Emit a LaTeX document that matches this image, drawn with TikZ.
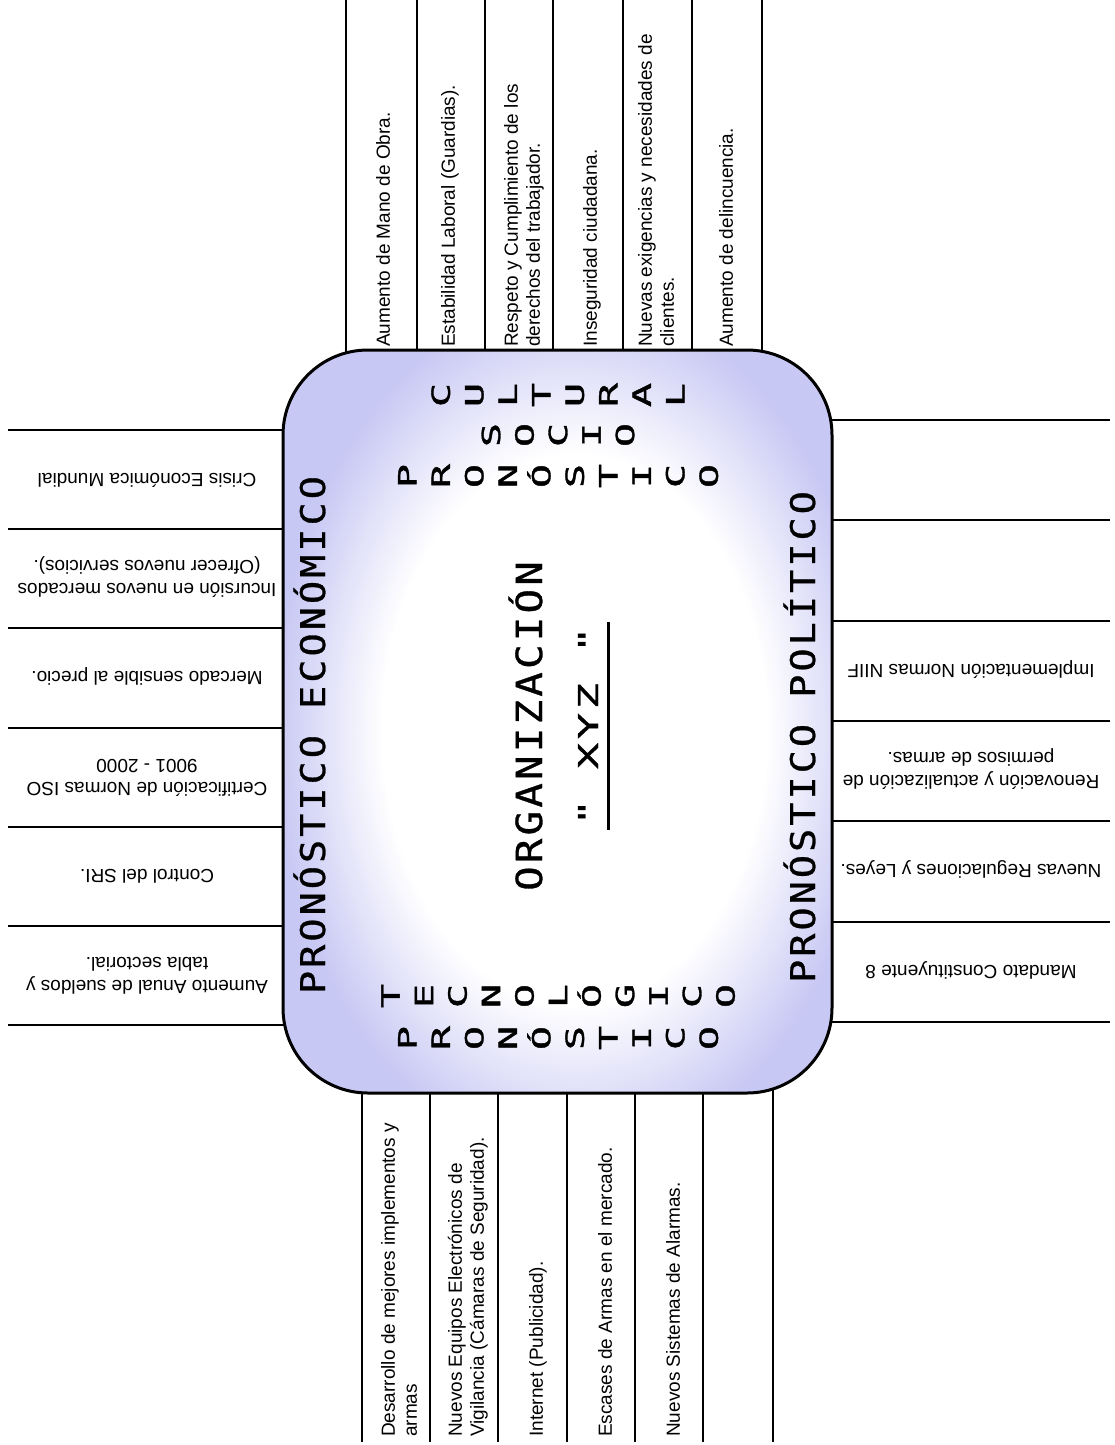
\documentclass[tikz,border=0pt]{standalone}
\usepackage{fontspec}
\usepackage{graphicx}
\setmainfont{Liberation Sans}
\newfontfamily\handfont[LetterSpace=8,FakeBold=0.8]{DejaVu Sans Mono}
\newfontfamily\stackfont[FakeBold=1.2]{DejaVu Sans Mono}
\definecolor{lav}{RGB}{200,200,244}
\pgfdeclareradialshading{centreglow}{\pgfpointorigin}{%
  color(0bp)=(white); color(16bp)=(white); color(25bp)=(lav); color(50bp)=(lav)}
\tikzset{
  rule/.style={line width=2pt},
  celltext/.style={font=\fontsize{19}{23}\selectfont, inner sep=0pt,
                   text height=13.6pt, text depth=0pt},
  uptext/.style={celltext, rotate=90, anchor=west},
  fliptext/.style={celltext, rotate=180, anchor=center},
  bigtext/.style={inner sep=0pt, rotate=90, anchor=base},
  stackletter/.style={inner sep=0pt, rotate=90, anchor=center,
                      font=\stackfont\fontsize{25}{25}\selectfont,
                      text height=18.2pt, text depth=0pt},
}
\newcommand{\widen}[2]{\scalebox{#1}[1]{#2}}
% one row of upright-stacked letters
\newcommand{\letterrow}[4]{%
  \foreach \ch [count=\i from 0] in {#4}
    \node[stackletter] (#1\i) at ({#3+33.5*\i},#2) {\widen{1.6}{\ch}};%
}
\begin{document}
\begin{tikzpicture}[x=1pt,y=-1pt]
\useasboundingbox (0,0) rectangle (1115,1445);

% table rules around the central box
\foreach \x in {346,417,485,553,623,692,762} \draw[rule] (\x,0) -- (\x,360);
\foreach \x in {362,430,498,567,635,703,773} \draw[rule] (\x,1080) -- (\x,1442);
\foreach \y in {430,529,628,728,827,926,1025} \draw[rule] (8,\y) -- (295,\y);
\foreach \y in {420,520,621,721,821,922,1022} \draw[rule] (820,\y) -- (1110,\y);

% central rounded box with a white glow
\node[draw, line width=3pt, fill=lav, rounded corners=85pt,
      minimum width=549pt, minimum height=743pt, inner sep=0pt,
      path picture={\shade[shading=centreglow]
        ([xshift=17pt,yshift=-8pt]path picture bounding box.center)
        ellipse [x radius=300pt, y radius=430pt];}]
  (org) at (557.5,721.5) {};

% inner titles
\node[bigtext, font=\handfont\fontsize{34}{40}\selectfont] (econ) at (325,735)
  {\widen{1.13}{PRONÓSTICO ECONÓMICO}};
\node[bigtext, font=\handfont\fontsize{34}{40}\selectfont] (pol) at (815,737)
  {\widen{1.13}{PRONÓSTICO POLÍTICO}};
\node[bigtext, font=\handfont\fontsize{36}{40}\selectfont] (name) at (542,726)
  {\widen{1.13}{ORGANIZACIÓN}};
\node[bigtext, font=\handfont\fontsize{27.4}{30}\selectfont] (xyz) at (598,726)
  {\widen{1.6}{" XYZ "}};
\draw[line width=3pt, shorten <=-4pt, shorten >=-4pt]
  ([xshift=10pt]xyz.base west) -- ([xshift=10pt]xyz.base east);

% stacked letter rows
\letterrow{cu}{395}{440.75}{C,U,L,T,U,R,A,L}
\letterrow{so}{435}{491}{S,O,C,I,O}
\letterrow{pa}{476}{407.25}{P,R,O,N,Ó,S,T,I,C,O}
\letterrow{te}{996}{390.5}{T,E,C,N,O,L,Ó,G,I,C,O}
\letterrow{pb}{1038}{407.25}{P,R,O,N,Ó,S,T,I,C,O}

% top cells
\node[uptext] (t1)  at (383,347) {Aumento de Mano de Obra.};
\node[uptext] (t2)  at (448,347) {Estabilidad Laboral (Guardias).};
\node[uptext] (t3a) at (511,347) {Respeto y Cumplimiento de los};
\node[uptext] (t3b) at (533,347) {derechos del trabajador.};
\node[uptext] (t4)  at (590,347) {Inseguridad ciudadana.};
\node[uptext] (t5a) at (645,347) {Nuevas exigencias y necesidades de};
\node[uptext] (t5b) at (667,347) {clientes.};
\node[uptext] (t6)  at (726,347) {Aumento de delincuencia.};

% bottom cells
\node[uptext] (b1a) at (388,1437) {Desarrollo de mejores implementos y};
\node[uptext] (b1b) at (410,1437) {armas};
\node[uptext] (b2a) at (455,1437) {Nuevos Equipos Electrónicos de};
\node[uptext] (b2b) at (477,1437) {Vigilancia (Cámaras de Seguridad).};
\node[uptext] (b3)  at (536,1437) {Internet (Publicidad).};
\node[uptext] (b4)  at (605,1437) {Escases de Armas en el mercado.};
\node[uptext] (b5)  at (673,1437) {Nuevos Sistemas de Alarmas.};

% left cells
\node[fliptext] (l1)  at (147,480)   {Crisis Económica Mundial};
\node[fliptext] (l2a) at (147,590)   {Incursión en nuevos mercados};
\node[fliptext] (l2b) at (147,567)   {(Ofrecer nuevos servicios).};
\node[fliptext] (l3)  at (147,678)   {Mercado sensible al precio.};
\node[fliptext] (l4a) at (147,789)   {Certificación de Normas ISO};
\node[fliptext] (l4b) at (147,766)   {9001 - 2000};
\node[fliptext] (l5)  at (147,876.5) {Control del SRI.};
\node[fliptext] (l6a) at (147,987)   {Aumento Anual de sueldos y};
\node[fliptext] (l6b) at (147,964)   {tabla sectorial.};

% right cells
\node[fliptext] (r3)  at (971,671)   {Implementación Normas NIIF};
\node[fliptext] (r4a) at (971,782)   {Renovación y actualización de};
\node[fliptext] (r4b) at (971,759)   {permisos de armas.};
\node[fliptext] (r5)  at (971,871.5) {Nuevas Regulaciones y Leyes.};
\node[fliptext] (r6)  at (971,972)   {Mandato Constituyente 8};
\end{tikzpicture}
\end{document}
